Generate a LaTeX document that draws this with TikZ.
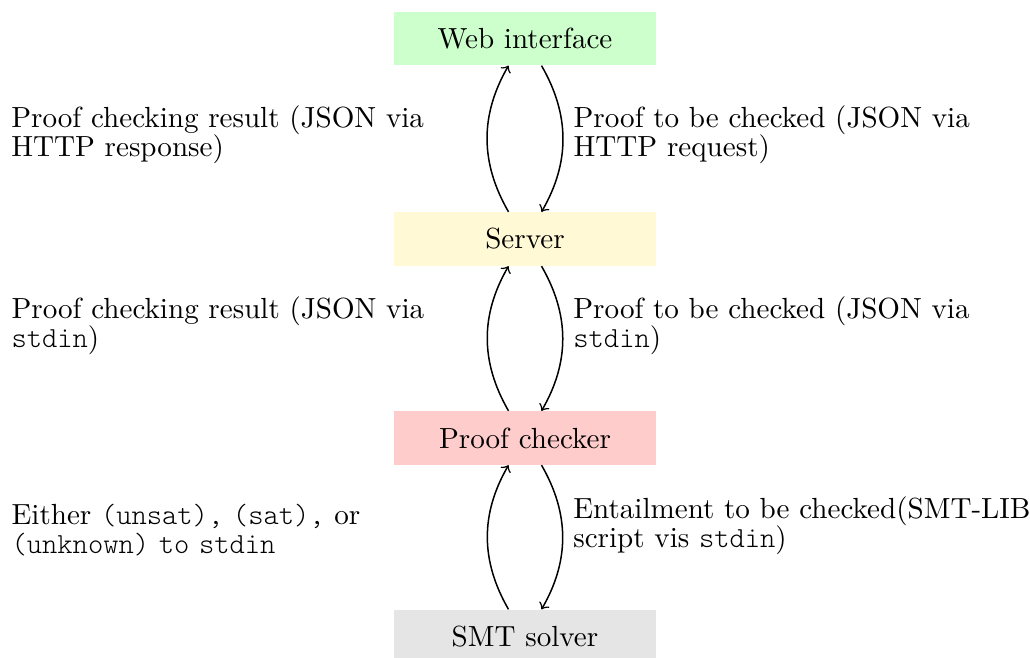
\documentclass[tikz,border=0pt]{standalone}
\usetikzlibrary{arrows}

\definecolor{webgreen}{RGB}{204,255,204}
\definecolor{serveryellow}{RGB}{255,249,214}
\definecolor{checkerred}{RGB}{255,204,204}
\definecolor{smtgray}{RGB}{229,229,229}

% tight, fixed line spacing for the diagram text
\newcommand\diagfont{\fontsize{9.7}{9.67}\selectfont\lineskiplimit=-100pt\relax}
% command-line names in a light typewriter face
\newcommand\cli[1]{{\ttfamily\fontseries{l}\selectfont #1}}

\begin{document}
\begin{tikzpicture}[x=0.3333pt,y=-0.3333pt,
  txt/.style={font=\diagfont},
  box/.style={txt, minimum width=87.3pt, minimum height=17.7pt, inner sep=0pt},
  leftlbl/.style={txt, midway, left, align=left, text width=155pt},
  rightlbl/.style={txt, midway, right, align=left},
  flow/.style={->, line width=0.5pt, bend left=30}]
\useasboundingbox (0,0) rectangle (1030,657);

% components of the checking pipeline
\node[box, fill=webgreen]     (web)     at (525,38.5)  {Web interface};
\node[box, fill=serveryellow] (server)  at (525,239)   {Server};
\node[box, fill=checkerred]   (checker) at (525,438)   {Proof checker};
\node[box, fill=smtgray]      (smt)     at (525,636.5) {SMT solver};

% requests going down, results coming back up
\draw[flow] ([xshift=-5.5pt]server.north) to
  node[leftlbl, yshift=1.3pt] {Proof checking result (JSON via\\HTTP response)}
  ([xshift=-5.5pt]web.south);
\draw[flow] ([xshift=5.5pt]web.south) to
  node[rightlbl, yshift=1.3pt] {Proof to be checked (JSON via\\HTTP request)}
  ([xshift=5.5pt]server.north);

\draw[flow] ([xshift=-5.5pt]checker.north) to
  node[leftlbl, yshift=4.2pt] {Proof checking result (JSON via\\\cli{stdin})}
  ([xshift=-5.5pt]server.south);
\draw[flow] ([xshift=5.5pt]server.south) to
  node[rightlbl, yshift=4.2pt] {Proof to be checked (JSON via\\\cli{stdin})}
  ([xshift=5.5pt]checker.north);

\draw[flow] ([xshift=-5.5pt]smt.north) to
  node[leftlbl, yshift=2.3pt] {Either \cli{(unsat),} \cli{(sat),} or\\\cli{(unknown) to stdin}}
  ([xshift=-5.5pt]checker.south);
\draw[flow] ([xshift=5.5pt]checker.south) to
  node[rightlbl, yshift=4pt] {Entailment to be checked(SMT-LIB\\script vis \cli{stdin})}
  ([xshift=5.5pt]smt.north);
\end{tikzpicture}
\end{document}
